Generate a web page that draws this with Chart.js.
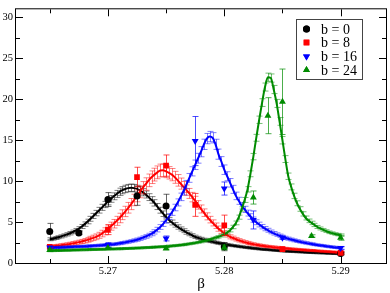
<!DOCTYPE html>
<html>
<head>
<meta charset="utf-8">
<script src="https://cdn.jsdelivr.net/npm/chart.js@4.4.1/dist/chart.umd.min.js"></script>
<style>
html, body { margin: 0; padding: 0; background: #fff; }
#wrap { width: 390px; height: 293px; }
</style>
</head>
<body>
<div id="wrap"><canvas id="chart" width="390" height="293"></canvas></div>
<script>
// =======================
// Data
// =======================
// beta grid of the fitted (reweighted) curves
const betaGrid = [
  5.26500, 5.26525, 5.26550, 5.26575, 5.26600, 5.26625, 5.26650, 5.26675, 5.26700, 5.26725,
  5.26750, 5.26775, 5.26800, 5.26825, 5.26850, 5.26875, 5.26900, 5.26925, 5.26950, 5.26975,
  5.27000, 5.27025, 5.27050, 5.27075, 5.27100, 5.27125, 5.27150, 5.27175, 5.27200, 5.27225,
  5.27250, 5.27275, 5.27300, 5.27325, 5.27350, 5.27375, 5.27400, 5.27425, 5.27450, 5.27475,
  5.27500, 5.27525, 5.27550, 5.27575, 5.27600, 5.27625, 5.27650, 5.27675, 5.27700, 5.27725,
  5.27750, 5.27775, 5.27800, 5.27825, 5.27850, 5.27875, 5.27900, 5.27925, 5.27950, 5.27975,
  5.28000, 5.28025, 5.28050, 5.28075, 5.28100, 5.28125, 5.28150, 5.28175, 5.28200, 5.28225,
  5.28250, 5.28275, 5.28300, 5.28325, 5.28350, 5.28375, 5.28400, 5.28425, 5.28450, 5.28475,
  5.28500, 5.28525, 5.28550, 5.28575, 5.28600, 5.28625, 5.28650, 5.28675, 5.28700, 5.28725,
  5.28750, 5.28775, 5.28800, 5.28825, 5.28850, 5.28875, 5.28900, 5.28925, 5.28950, 5.28975,
  5.29000
];

const curveB0 = [
  2.9, 2.97, 3.05, 3.15, 3.25, 3.37, 3.5, 3.64, 3.8, 3.99,
  4.2, 4.46, 4.75, 5.07, 5.4, 5.75, 6.1, 6.45, 6.8, 7.15,
  7.5, 7.83, 8.15, 8.44, 8.7, 8.9, 9.05, 9.15, 9.2, 9.15,
  9.05, 8.88, 8.65, 8.37, 8.05, 7.71, 7.35, 6.9, 6.45, 6.02,
  5.6, 5.26, 4.95, 4.66, 4.4, 4.16, 3.95, 3.74, 3.55, 3.37,
  3.2, 3.07, 2.95, 2.85, 2.75, 2.66, 2.58, 2.51, 2.44, 2.37,
  2.3, 2.24, 2.18, 2.12, 2.07, 2.02, 1.97, 1.92, 1.88, 1.84,
  1.8, 1.76, 1.72, 1.68, 1.65, 1.62, 1.59, 1.56, 1.53, 1.5,
  1.48, 1.45, 1.43, 1.41, 1.39, 1.37, 1.35, 1.33, 1.31, 1.29,
  1.28, 1.26, 1.25, 1.23, 1.22, 1.2, 1.19, 1.17, 1.16, 1.14,
  1.13
];
const curveB0Err = [
  0.18, 0.18, 0.18, 0.18, 0.19, 0.19, 0.2, 0.21, 0.22, 0.23,
  0.24, 0.25, 0.27, 0.28, 0.3, 0.31, 0.33, 0.35, 0.37, 0.38,
  0.4, 0.41, 0.42, 0.43, 0.44, 0.44, 0.45, 0.45, 0.45, 0.45,
  0.45, 0.44, 0.44, 0.43, 0.42, 0.4, 0.39, 0.37, 0.36, 0.34,
  0.33, 0.31, 0.3, 0.28, 0.27, 0.25, 0.24, 0.23, 0.22, 0.21,
  0.2, 0.19, 0.19, 0.18, 0.18, 0.17, 0.17, 0.16, 0.16, 0.15,
  0.15, 0.15, 0.15, 0.14, 0.14, 0.14, 0.14, 0.13, 0.13, 0.13,
  0.13, 0.13, 0.13, 0.12, 0.12, 0.12, 0.12, 0.12, 0.12, 0.12,
  0.12, 0.12, 0.12, 0.12, 0.12, 0.12, 0.12, 0.12, 0.12, 0.12,
  0.12, 0.12, 0.12, 0.12, 0.12, 0.12, 0.12, 0.12, 0.12, 0.12,
  0.12
];

const curveB8 = [
  2.0, 2.04, 2.08, 2.12, 2.17, 2.22, 2.27, 2.33, 2.4, 2.47,
  2.55, 2.63, 2.72, 2.83, 2.95, 3.07, 3.2, 3.38, 3.6, 3.87,
  4.2, 4.5, 4.8, 5.15, 5.5, 5.9, 6.3, 6.75, 7.2, 7.7,
  8.2, 8.7, 9.2, 9.65, 10.1, 10.48, 10.8, 11.08, 11.3, 11.32,
  11.2, 11.02, 10.8, 10.47, 10.1, 9.7, 9.3, 8.9, 8.5, 8.05,
  7.6, 7.1, 6.6, 6.15, 5.7, 5.3, 4.9, 4.55, 4.2, 3.92,
  3.65, 3.42, 3.2, 3.05, 2.9, 2.77, 2.65, 2.55, 2.45, 2.37,
  2.3, 2.23, 2.17, 2.11, 2.06, 2.01, 1.97, 1.93, 1.89, 1.85,
  1.82, 1.78, 1.75, 1.72, 1.69, 1.66, 1.63, 1.6, 1.58, 1.55,
  1.53, 1.5, 1.48, 1.45, 1.43, 1.4, 1.38, 1.35, 1.33, 1.3,
  1.28
];
const curveB8Err = [
  0.18, 0.18, 0.18, 0.18, 0.19, 0.19, 0.2, 0.21, 0.22, 0.23,
  0.24, 0.25, 0.27, 0.29, 0.31, 0.33, 0.35, 0.37, 0.4, 0.43,
  0.46, 0.49, 0.52, 0.55, 0.58, 0.6, 0.63, 0.65, 0.68, 0.7,
  0.72, 0.73, 0.75, 0.76, 0.77, 0.77, 0.78, 0.78, 0.78, 0.78,
  0.77, 0.76, 0.75, 0.73, 0.71, 0.68, 0.66, 0.63, 0.61, 0.58,
  0.55, 0.52, 0.49, 0.46, 0.43, 0.4, 0.37, 0.34, 0.32, 0.3,
  0.28, 0.26, 0.25, 0.23, 0.22, 0.21, 0.2, 0.19, 0.19, 0.18,
  0.18, 0.17, 0.17, 0.16, 0.16, 0.15, 0.15, 0.15, 0.15, 0.14,
  0.14, 0.14, 0.14, 0.13, 0.13, 0.13, 0.13, 0.13, 0.13, 0.12,
  0.12, 0.12, 0.12, 0.12, 0.12, 0.12, 0.12, 0.12, 0.12, 0.12,
  0.12
];

const curveB16 = [
  1.85, 1.86, 1.88, 1.9, 1.91, 1.93, 1.94, 1.96, 1.97, 1.99,
  2.0, 2.02, 2.04, 2.06, 2.08, 2.1, 2.12, 2.15, 2.17, 2.2,
  2.22, 2.26, 2.3, 2.35, 2.4, 2.46, 2.52, 2.59, 2.67, 2.76,
  2.85, 2.96, 3.1, 3.24, 3.4, 3.58, 3.8, 4.08, 4.4, 4.78,
  5.2, 5.68, 6.2, 6.78, 7.4, 8.08, 8.8, 9.58, 10.4, 11.2,
  12.0, 12.8, 13.6, 14.5, 15.2, 15.45, 15.3, 14.5, 13.3, 12.4,
  11.4, 10.6, 9.8, 9.0, 8.2, 7.6, 7.0, 6.55, 6.1, 5.68,
  5.3, 4.98, 4.7, 4.44, 4.2, 4.0, 3.8, 3.63, 3.47, 3.33,
  3.2, 3.08, 2.97, 2.87, 2.77, 2.68, 2.6, 2.52, 2.45, 2.38,
  2.32, 2.26, 2.2, 2.15, 2.1, 2.05, 2.0, 1.95, 1.91, 1.87,
  1.83
];
const curveB16Err = [
  0.14, 0.14, 0.14, 0.14, 0.14, 0.14, 0.14, 0.14, 0.14, 0.14,
  0.14, 0.14, 0.14, 0.14, 0.14, 0.14, 0.15, 0.15, 0.15, 0.15,
  0.15, 0.15, 0.16, 0.16, 0.16, 0.16, 0.17, 0.18, 0.18, 0.19,
  0.2, 0.2, 0.21, 0.22, 0.23, 0.25, 0.26, 0.28, 0.29, 0.31,
  0.33, 0.35, 0.38, 0.4, 0.43, 0.46, 0.49, 0.51, 0.54, 0.56,
  0.58, 0.6, 0.62, 0.63, 0.63, 0.63, 0.63, 0.62, 0.62, 0.6,
  0.58, 0.55, 0.52, 0.49, 0.46, 0.43, 0.4, 0.38, 0.36, 0.34,
  0.32, 0.3, 0.29, 0.27, 0.26, 0.24, 0.23, 0.22, 0.21, 0.2,
  0.2, 0.19, 0.19, 0.18, 0.18, 0.17, 0.17, 0.16, 0.16, 0.15,
  0.15, 0.14, 0.14, 0.14, 0.14, 0.14, 0.14, 0.14, 0.14, 0.14,
  0.14
];

const curveB24 = [
  1.5, 1.51, 1.52, 1.53, 1.54, 1.55, 1.56, 1.57, 1.58, 1.59,
  1.6, 1.61, 1.62, 1.63, 1.64, 1.65, 1.66, 1.67, 1.68, 1.69,
  1.7, 1.71, 1.72, 1.73, 1.74, 1.75, 1.77, 1.78, 1.8, 1.81,
  1.83, 1.84, 1.86, 1.88, 1.9, 1.92, 1.94, 1.96, 1.98, 2.0,
  2.03, 2.06, 2.09, 2.12, 2.16, 2.2, 2.24, 2.29, 2.34, 2.4,
  2.46, 2.53, 2.6, 2.69, 2.78, 2.88, 3.0, 3.1, 3.2, 3.34,
  3.5, 3.72, 4.0, 4.4, 4.9, 5.6, 6.6, 7.7, 9.0, 10.9,
  13.0, 15.3, 17.5, 19.6, 21.5, 22.7, 22.6, 21.2, 19.5, 17.3,
  15.0, 12.7, 10.6, 9.3, 8.2, 7.3, 6.6, 6.0, 5.5, 5.15,
  4.9, 4.65, 4.4, 4.22, 4.05, 3.9, 3.75, 3.65, 3.55, 3.47,
  3.4
];
const curveB24Err = [
  0.12, 0.12, 0.12, 0.12, 0.12, 0.12, 0.12, 0.12, 0.12, 0.12,
  0.12, 0.12, 0.12, 0.12, 0.12, 0.12, 0.12, 0.12, 0.12, 0.12,
  0.12, 0.12, 0.12, 0.12, 0.12, 0.12, 0.12, 0.12, 0.12, 0.12,
  0.12, 0.12, 0.12, 0.12, 0.12, 0.12, 0.12, 0.12, 0.12, 0.12,
  0.12, 0.12, 0.12, 0.12, 0.12, 0.12, 0.12, 0.12, 0.12, 0.12,
  0.12, 0.12, 0.13, 0.13, 0.13, 0.13, 0.14, 0.14, 0.15, 0.16,
  0.17, 0.18, 0.2, 0.21, 0.23, 0.25, 0.27, 0.3, 0.33, 0.36,
  0.39, 0.42, 0.45, 0.47, 0.49, 0.5, 0.5, 0.5, 0.49, 0.47,
  0.45, 0.42, 0.39, 0.36, 0.33, 0.3, 0.28, 0.26, 0.24, 0.22,
  0.21, 0.2, 0.19, 0.18, 0.17, 0.16, 0.16, 0.15, 0.15, 0.15,
  0.15
];

// simulation points
const ptsB0Beta = [5.265, 5.2675, 5.27, 5.2725, 5.275, 5.28, 5.29];
const ptsB0Val  = [3.84, 3.67, 7.75, 8.2, 6.95, 2.0, 1.15];
const ptsB0Err  = [1.0, 0.2, 0.85, 1.15, 1.45, 0.5, 0.15];

const ptsB8Beta = [5.265, 5.27, 5.2725, 5.275, 5.2775, 5.28, 5.285, 5.29];
const ptsB8Val  = [1.98, 4.07, 10.5, 11.9, 7.1, 4.6, 1.7, 1.23];
const ptsB8Err  = [0.15, 0.6, 1.2, 1.3, 1.4, 1.25, 0.15, 0.15];

const ptsB16Beta = [5.265, 5.27, 5.275, 5.2775, 5.28, 5.2825, 5.285, 5.29];
const ptsB16Val  = [1.9, 2.2, 3.0, 14.9, 9.1, 5.26, 3.08, 1.82];
const ptsB16Err  = [0.1, 0.3, 0.3, 3.0, 0.8, 1.1, 0.2, 0.2];

const ptsB24Beta = [5.265, 5.27, 5.275, 5.28, 5.2825, 5.28375, 5.285, 5.2875, 5.29];
const ptsB24Val  = [1.58, 1.82, 1.78, 1.9, 8.0, 18.0, 19.7, 3.3, 3.08];
const ptsB24Err  = [0.1, 0.1, 0.1, 0.3, 0.8, 2.2, 4.0, 0.15, 0.3];

const legendLabels = ["b = 0", "b = 8", "b = 16", "b = 24"];
const xMajorTicks = [5.27, 5.28, 5.29];
const xMinorTicks = [5.265, 5.275, 5.285];
const yMajorTicks = [0, 5, 10, 15, 20, 25, 30];
const yMinorTicks = [2.5, 7.5, 12.5, 17.5, 22.5, 27.5];

// =======================
// Styles
// =======================
const SERIF = "'Liberation Serif', 'DejaVu Serif', serif";
const colors = ["#000000", "#ff0000", "#0000ff", "#008b00"];
const bandColors = ["rgba(0,0,0,0.5)", "rgba(255,0,0,0.5)", "rgba(0,0,255,0.5)", "rgba(0,139,0,0.55)"];
const barColors = ["rgba(0,0,0,0.6)", "rgba(255,0,0,0.7)", "rgba(0,0,255,0.7)", "rgba(0,139,0,0.7)"];
const markers = [
  { style: "circle", r: 3.5, rot: 0 },
  { style: "rect", r: 4, rot: 0 },
  { style: "triangle", r: 4, rot: 180 },
  { style: "triangle", r: 4, rot: 0 }
];

function toXY(xs, ys) {
  return xs.map((x, i) => ({ x: x, y: ys[i] }));
}

const curves = [curveB0, curveB8, curveB16, curveB24];
const curveErrs = [curveB0Err, curveB8Err, curveB16Err, curveB24Err];
const ptsBeta = [ptsB0Beta, ptsB8Beta, ptsB16Beta, ptsB24Beta];
const ptsVal = [ptsB0Val, ptsB8Val, ptsB16Val, ptsB24Val];
const ptsErr = [ptsB0Err, ptsB8Err, ptsB16Err, ptsB24Err];

const datasets = [];
curves.forEach((c, k) => {
  datasets.push({
    label: legendLabels[k] + " fit",
    data: toXY(betaGrid, c),
    showLine: true,
    borderColor: colors[k],
    borderWidth: 2,
    pointRadius: 0,
    cubicInterpolationMode: "monotone",
    errs: curveErrs[k],
    errColor: bandColors[k],
    cap: 3,
    order: 20 - k
  });
});
ptsBeta.forEach((b, k) => {
  datasets.push({
    label: legendLabels[k],
    data: toXY(b, ptsVal[k]),
    showLine: false,
    pointStyle: markers[k].style,
    pointRadius: markers[k].r,
    pointRotation: markers[k].rot,
    backgroundColor: colors[k],
    borderColor: colors[k],
    borderWidth: 0,
    errs: ptsErr[k],
    errColor: barColors[k],
    cap: 3,
    order: 10 - k
  });
});

// =======================
// Plugins
// =======================
const errorBars = {
  id: "errorBars",
  beforeDatasetDraw(chart, args) {
    const ds = chart.data.datasets[args.index];
    if (!ds.errs) return;
    const y = chart.scales.y;
    const ctx = chart.ctx;
    const area = chart.chartArea;
    ctx.save();
    ctx.beginPath();
    ctx.rect(area.left, area.top, area.right - area.left, area.bottom - area.top);
    ctx.clip();
    ctx.strokeStyle = ds.errColor;
    ctx.lineWidth = 1;
    args.meta.data.forEach((pt, i) => {
      const v = ds.data[i].y, e = ds.errs[i];
      const yTop = y.getPixelForValue(v + e);
      const yBot = y.getPixelForValue(v - e);
      const x = Math.round(pt.x) + 0.5;
      ctx.beginPath();
      ctx.moveTo(x, yTop); ctx.lineTo(x, yBot);
      ctx.moveTo(x - ds.cap, yTop); ctx.lineTo(x + ds.cap, yTop);
      ctx.moveTo(x - ds.cap, yBot); ctx.lineTo(x + ds.cap, yBot);
      ctx.stroke();
    });
    ctx.restore();
  }
};

const frameAndLegend = {
  id: "frameAndLegend",
  afterDraw(chart) {
    const ctx = chart.ctx;
    const a = chart.chartArea;
    const xs = chart.scales.x, ys = chart.scales.y;
    ctx.save();
    ctx.strokeStyle = "#000";
    ctx.lineWidth = 1;
    ctx.strokeRect(a.left - 0.5, a.top - 0.5, a.right - a.left + 1, a.bottom - a.top + 1);

    // inward ticks on all four sides
    ctx.beginPath();
    const tick = (list, len) => {
      list.forEach(v => {
        const px = Math.round(xs.getPixelForValue(v)) + 0.5;
        ctx.moveTo(px, a.bottom); ctx.lineTo(px, a.bottom - len);
        ctx.moveTo(px, a.top); ctx.lineTo(px, a.top + len);
      });
    };
    const ytick = (list, len) => {
      list.forEach(v => {
        const py = Math.round(ys.getPixelForValue(v)) + 0.5;
        ctx.moveTo(a.left, py); ctx.lineTo(a.left + len, py);
        ctx.moveTo(a.right, py); ctx.lineTo(a.right - len, py);
      });
    };
    tick(xMajorTicks, 7); tick(xMinorTicks, 4);
    ytick(yMajorTicks, 7); ytick(yMinorTicks, 4);
    ctx.stroke();

    // legend box
    const bx = 296, by = 19, bw = 66, bh = 60;
    ctx.fillStyle = "#fff";
    ctx.fillRect(bx, by, bw, bh);
    ctx.strokeStyle = "#444";
    ctx.strokeRect(bx + 0.5, by + 0.5, bw, bh);
    const rows = [29, 42.5, 56.5, 70];
    ctx.font = "14px " + SERIF;
    ctx.textBaseline = "middle";
    ctx.textAlign = "left";
    rows.forEach((ry, k) => {
      const m = markers[k];
      ctx.fillStyle = colors[k];
      Chart.helpers.drawPoint(ctx, {
        pointStyle: m.style, radius: m.r, rotation: m.rot, borderWidth: 0
      }, 306.5, ry);
      ctx.fill();
      ctx.fillStyle = "#000";
      ctx.fillText(legendLabels[k], 321, ry + 1);
    });
    ctx.restore();
  }
};

// =======================
// Chart
// =======================
const chart = new Chart(document.getElementById("chart").getContext("2d"), {
  type: "scatter",
  data: { datasets },
  options: {
    responsive: false,
    animation: false,
    devicePixelRatio: 1,
    layout: { padding: { left: 0, right: 2, top: 1, bottom: 0 } },
    plugins: { legend: { display: false }, tooltip: { enabled: false } },
    scales: {
      x: {
        type: "linear",
        min: 5.2621,
        max: 5.2939,
        grid: { display: false, drawTicks: false },
        border: { display: false },
        afterBuildTicks: s => { s.ticks = xMajorTicks.map(v => ({ value: v })); },
        afterFit: s => { s.height = 30; },
        ticks: {
          color: "#000",
          padding: 2,
          font: { family: SERIF, size: 10.5 },
          callback: v => v.toFixed(2)
        },
        title: {
          display: true,
          text: "β",
          color: "#000",
          font: { family: SERIF, size: 15, lineHeight: 1 },
          padding: { top: 0, bottom: 1 }
        }
      },
      y: {
        type: "linear",
        min: 0,
        max: 31,
        grid: { display: false, drawTicks: false },
        border: { display: false },
        afterBuildTicks: s => { s.ticks = yMajorTicks.map(v => ({ value: v })); },
        afterFit: s => { s.width = 16; },
        ticks: {
          color: "#000",
          padding: 3,
          font: { family: SERIF, size: 10.5 },
          callback: v => String(v)
        }
      }
    }
  },
  plugins: [errorBars, frameAndLegend]
});
</script>
</body>
</html>
